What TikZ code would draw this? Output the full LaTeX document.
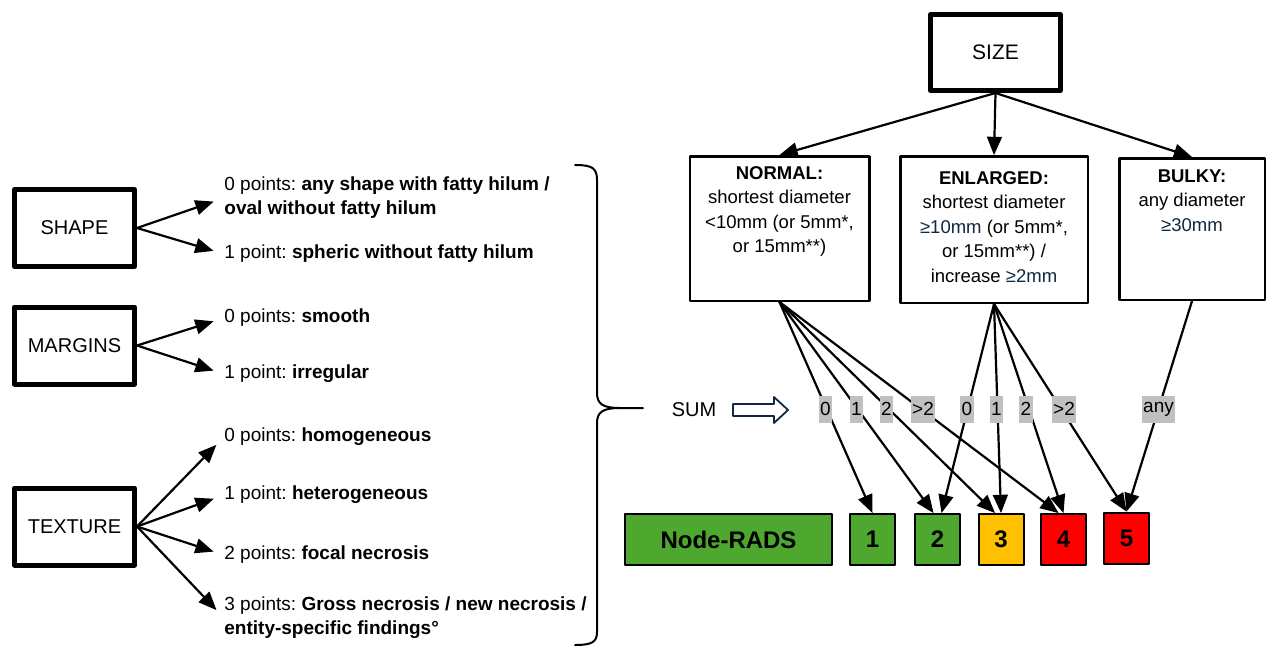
\documentclass[tikz,border=0pt]{standalone}
\usepackage{fontspec}
\setmainfont{Liberation Sans}
\frenchspacing
\usetikzlibrary{arrows,positioning}
\definecolor{radsgreen}{HTML}{4EA72E}
\definecolor{radsyellow}{HTML}{FFC000}
\definecolor{radsred}{HTML}{FF0000}
\definecolor{sumgray}{HTML}{C0C0C0}
\definecolor{navytxt}{HTML}{0E2841}
\tikzset{
  featbox/.style={draw, line width=2.5pt, minimum width=60pt, minimum height=38.5pt, font=\fontsize{10}{12}\selectfont},
  catbox/.style={draw, line width=1.25pt},
  cattext/.style={align=center, inner sep=0pt, font=\fontsize{9.25}{12.25}\selectfont},
  pointtext/.style={anchor=west, align=left, inner sep=0pt, font=\fontsize{9.5}{12}\selectfont},
  sumlbl/.style={fill=sumgray, inner xsep=0.8pt, inner ysep=0pt, minimum height=13.5pt, font=\fontsize{9.5}{10}\selectfont},
  radsbox/.style={draw, line width=1pt, minimum width=22.5pt, minimum height=25.5pt, font=\fontsize{12}{14}\selectfont\bfseries},
  conn/.style={->, line width=1.1pt},
  pointarrow/.style={conn, shorten >=5.5pt},
}
\begin{document}
\begin{tikzpicture}[x=0.5pt,y=-0.5pt,line cap=round,line join=round,>=triangle 45]
        \useasboundingbox (0,0) rectangle (1268,649);
        % size branch
        \node[featbox, minimum width=65pt, minimum height=38pt, font=\fontsize{10.5}{12}\selectfont] (size) at (995.5,52.5) {SIZE};
        \node[catbox, minimum width=89.75pt, minimum height=72.25pt] (normal) at (779.5,228.5) {};
        \node[catbox, minimum width=93.75pt, minimum height=73.25pt] (enlarged) at (994,229.5) {};
        \node[catbox, minimum width=72.75pt, minimum height=70.75pt] (bulky) at (1192,229) {};
        \node[cattext, below=5.5pt of normal.north] (normaltxt) {\textbf{NORMAL:}\\shortest diameter\\<10mm (or 5mm*,\\or 15mm**)};
        \node[cattext, below=8pt of enlarged.north] (enlargedtxt) {\textbf{ENLARGED:}\\shortest diameter\\{\color{navytxt}≥10mm} (or 5mm*,\\or 15mm**) /\\increase {\color{navytxt}≥2mm}};
        \node[cattext, below=6pt of bulky.north] (bulkytxt) {\textbf{BULKY:}\\any diameter\\{\color{navytxt}≥30mm}};
        \draw[conn] (size.south) -- (normal.north);
        \draw[conn] (size.south) -- (enlarged.north);
        \draw[conn] (size.south) -- (bulky.north);
        % shape, margins, texture
        \node[featbox] (shape) at (74.5,228) {SHAPE};
        \node[featbox] (margins) at (74.5,345.5) {MARGINS};
        \node[featbox] (texture) at (74.5,526.5) {TEXTURE};
        \node[pointtext] (shape0) at (224,198) {0 points: \textbf{any shape with fatty hilum /}\\\textbf{oval without fatty hilum}};
        \node[pointtext] (shape1) at (224,254) {1 point: \textbf{spheric without fatty hilum}};
        \node[pointtext] (marg0) at (224,318) {0 points: \textbf{smooth}};
        \node[pointtext] (marg1) at (224,374) {1 point: \textbf{irregular}};
        \node[pointtext] (tex0) at (224,437) {0 points: \textbf{homogeneous}};
        \node[pointtext] (tex1) at (224,495) {1 point: \textbf{heterogeneous}};
        \node[pointtext] (tex2) at (224,555) {2 points: \textbf{focal necrosis}};
        \node[pointtext] (tex3) at (224,618) {3 points: \textbf{Gross necrosis / new necrosis /}\\\textbf{entity-specific findings°}};
        \foreach \pt in {shape0,shape1}
        \draw[pointarrow] (shape.east) -- (\pt.west);
        \foreach \pt in {marg0,marg1}
        \draw[pointarrow] (margins.east) -- (\pt.west);
        \foreach \pt in {tex0,tex1,tex2,tex3}
        \draw[pointarrow] (texture.east) -- (\pt.west);
        % brace and sum
        \draw[line width=1pt] (575,165) .. controls (592,165) and (597,168) .. (597,180) -- (597,393) .. controls (597,404) and (603,408) .. (620,408) -- (643,408);
        \draw[line width=1pt] (620,408) .. controls (603,408) and (597,412) .. (597,423) -- (597,632) .. controls (597,642) and (592,645) .. (575,645);
        \node[inner sep=0pt, font=\fontsize{10}{12}\selectfont] (sum) at (694,410) {SUM};
        \draw[navytxt, line width=0.9pt] (733,404) -- (774,404) -- (774,397) -- (788,410) -- (774,423) -- (774,416) -- (733,416) -- cycle;
        % result row
        \node[radsbox, fill=radsgreen, minimum width=103.5pt] (rads) at (728.5,539.5) {Node-RADS};
        \node[radsbox, fill=radsgreen] (r1) at (872.5,539.5) {1};
        \node[radsbox, fill=radsgreen] (r2) at (937.5,539.5) {2};
        \node[radsbox, fill=radsyellow] (r3) at (1001,539.5) {3};
        \node[radsbox, fill=radsred] (r4) at (1063.5,539.5) {4};
        \node[radsbox, fill=radsred] (r5) at (1126.5,538) {5};
        \foreach \res/\dx in {r1/0pt,r2/-2pt,r3/-3pt,r4/-2.5pt}
        \draw[conn] (normal.south) -- ([xshift=\dx]\res.north);
        \foreach \res/\dx in {r2/2pt,r3/0pt,r4/0pt,r5/0pt}
        \draw[conn] (enlarged.south) -- ([xshift=\dx]\res.north);
        \draw[conn] (bulky.south) -- (r5.north);
        % point sums
        \node[sumlbl] (n0) at (825.5,409) {0};
        \node[sumlbl] (n1) at (856.5,409) {1};
        \node[sumlbl] (n2) at (886.5,409) {2};
        \node[sumlbl] (n3) at (923,409) {>2};
        \node[sumlbl] (e0) at (967,409) {0};
        \node[sumlbl] (e1) at (996.5,409) {1};
        \node[sumlbl] (e2) at (1026,409) {2};
        \node[sumlbl] (e3) at (1064,409) {>2};
        \node[sumlbl] (bany) at (1158.5,409) {any};
      \end{tikzpicture}
\end{document}
